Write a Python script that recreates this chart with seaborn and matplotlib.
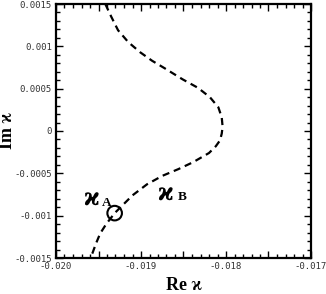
import numpy as np
import pandas as pd
import seaborn as sns
import matplotlib
matplotlib.use('Agg')
import matplotlib.pyplot as plt
from matplotlib.ticker import MultipleLocator, FuncFormatter

# curve (Re kappa, Im kappa)
re_k = [-0.01942, -0.01935, -0.01927, -0.01915, -0.01901, -0.01887, -0.01872, -0.01851,
        -0.01833, -0.01819, -0.01809, -0.01805, -0.01804, -0.01805, -0.01807, -0.01812,
        -0.01820, -0.01839, -0.01856, -0.01875, -0.01893, -0.01910, -0.01922, -0.01931,
        -0.01941, -0.01948, -0.01953, -0.01957, -0.01960]
im_k = [0.00150, 0.00135, 0.00119, 0.00105, 0.00093, 0.00083, 0.00074, 0.00061,
        0.00051, 0.00040, 0.00028, 0.00016, 0.00005, -0.00003, -0.00011, -0.00018,
        -0.00026, -0.00037, -0.00045, -0.00053, -0.00063, -0.00076, -0.00088, -0.00097,
        -0.00110, -0.00121, -0.00133, -0.00144, -0.00150]

# point A
point_re = [-0.01931]
point_im = [-0.00097]

sns.set_style('ticks')
serif = ['Liberation Serif', 'DejaVu Serif']

df = pd.DataFrame({'re': re_k, 'im': im_k})
pt = pd.DataFrame({'re': point_re, 'im': point_im})

fig = plt.figure(figsize=(3.26, 2.94), dpi=100)
ax = fig.add_axes([56/326, 1-258/294, 255/326, 254/294])

sns.lineplot(data=df, x='re', y='im', sort=False, estimator=None, ax=ax,
             color='black', lw=1.6, linestyle=(0, (3.2, 2.2)))
sns.scatterplot(data=pt, x='re', y='im', ax=ax, s=110, facecolor='none',
                edgecolor='black', linewidth=1.5, zorder=5)

ax.set_xlim(-0.020, -0.017)
ax.set_ylim(-0.0015, 0.0015)

ax.xaxis.set_major_locator(MultipleLocator(0.0005))
ax.xaxis.set_minor_locator(MultipleLocator(0.0001))
ax.yaxis.set_major_locator(MultipleLocator(0.0005))
ax.yaxis.set_minor_locator(MultipleLocator(0.0001))

def xfmt(v, pos):
    r = round(v, 4)
    if abs(r * 1000 - round(r * 1000)) < 1e-6:
        return '%.3f' % r
    return ''

def yfmt(v, pos):
    r = round(v, 4)
    if abs(r) < 1e-9:
        return '0'
    return ('%.4f' % r).rstrip('0')

ax.xaxis.set_major_formatter(FuncFormatter(xfmt))
ax.yaxis.set_major_formatter(FuncFormatter(yfmt))

ax.tick_params(which='both', direction='in', top=True, right=True, color='black',
               width=1.0)
ax.tick_params(which='major', length=5, labelsize=6.5, pad=3)
ax.tick_params(which='minor', length=3)
for lab in ax.get_xticklabels() + ax.get_yticklabels():
    lab.set_family('DejaVu Sans Mono')
    lab.set_color('#333333')

for s in ax.spines.values():
    s.set_linewidth(1.6)
    s.set_color('black')

ax.set_xlabel('Re ϰ', fontsize=13, fontweight='bold', family=serif, color='black',
              labelpad=4)
ax.set_ylabel('Im ϰ', fontsize=13, fontweight='bold', family=serif, color='black')
ax.yaxis.set_label_coords(-40/255, 0.5)

# labels kappa_A and kappa_B
ax.text(-0.019585, -0.00079, 'ϰ', fontsize=17, fontweight='bold', family='DejaVu Serif',
        color='black', ha='center', va='center')
ax.text(-0.01940, -0.00085, 'A', fontsize=9.5, fontweight='bold', family=serif,
        color='black', ha='center', va='center')
ax.text(-0.018715, -0.00072, 'ϰ', fontsize=17, fontweight='bold', family='DejaVu Serif',
        color='black', ha='center', va='center')
ax.text(-0.01852, -0.00078, 'B', fontsize=9.5, fontweight='bold', family=serif,
        color='black', ha='center', va='center')

fig.savefig('out.png', dpi=100)
